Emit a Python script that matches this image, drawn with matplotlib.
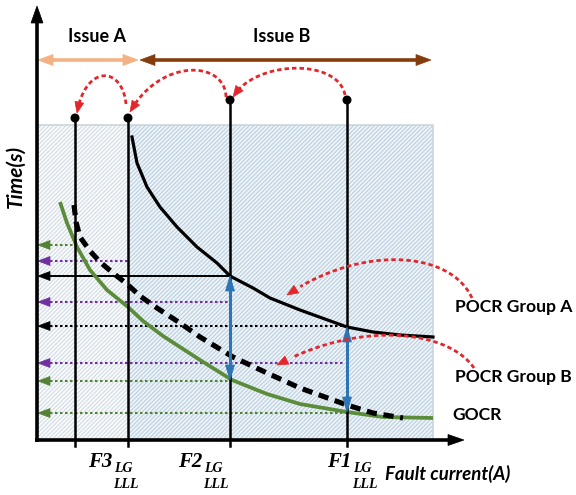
import matplotlib
matplotlib.use('Agg')
import matplotlib.pyplot as plt
import numpy as np
from matplotlib.patches import Rectangle, Polygon, Circle

# ---------------- data (schematic canvas units) ----------------
fault_x = [75, 128, 230, 347]          # fault-current markers
fault_top = [118, 118, 100, 100]       # top of each marker line

pocr_a_x = [132, 137, 147, 160, 177, 197, 217, 230, 253, 270, 300, 347, 373, 400, 433]
pocr_a_t = [137, 163, 187, 207, 227, 247, 263, 276, 288, 298, 310, 327, 332, 335, 337]

pocr_b_x = [74, 76, 80, 90, 100, 113, 127, 140, 157, 180, 200, 233, 267, 300, 347, 373, 403]
pocr_b_t = [205, 222, 237, 251, 262, 273, 284, 296, 308, 323, 337, 357, 373, 388, 405, 413, 418]

gocr_x = [60, 67, 77, 90, 107, 128, 143, 163, 200, 232, 267, 300, 347, 383, 433]
gocr_t = [202, 223, 247, 270, 290, 307, 321, 336, 360, 380, 394, 404, 412, 417, 418]

ref_t = [245, 261, 276, 302, 326, 363, 381, 413]
ref_from = [75, 128, 230, 230, 347, 343, 232, 347]
ref_color = ['#548235', '#7030A0', 'black', '#7030A0', 'black', '#7030A0', '#548235', '#548235']
ref_solid = [False, False, True, False, False, False, False, False]

blue_x = [230, 347]
blue_from = [276, 327]
blue_to = [380, 412]

# red curved arrows: start, control1, control2, tip
arc_p0 = [(126, 104), (226, 97), (345, 95), (472, 298), (474, 368)]
arc_c1 = [(122, 65), (225, 60), (338, 58), (450, 250), (448, 330)]
arc_c2 = [(85, 65), (160, 58), (255, 60), (360, 245), (360, 320)]
arc_p3 = [(77, 113), (130, 112), (233, 97), (287, 295), (277, 365)]

x_labels = ['F3', 'F2', 'F1']
x_label_pos = [88, 178, 327]
issue_labels = ['Issue A', 'Issue B']
issue_span = [(38, 138), (140, 431)]
issue_colors = ['#F4B183', '#843C0C']
curve_labels = ['POCR Group A', 'POCR Group B', 'GOCR']
curve_label_t = [307, 377, 415]
curve_label_x = [455, 455, 452]

# ---------------- figure ----------------
W, H = 576, 495
fig = plt.figure(figsize=(W / 100, H / 100), dpi=100)
ax = fig.add_axes([0, 0, 1, 1])
ax.set_xlim(0, W)
ax.set_ylim(H, 0)
ax.axis('off')

plt.rcParams['hatch.linewidth'] = 0.8

x0, y0, x1, y1 = 37, 125, 433, 440
# hatched regions
ax.add_patch(Rectangle((x0, y0), fault_x[1] - x0, y1 - y0, facecolor='#F9FBFC',
                       edgecolor='#D3DCE3', hatch='////////', lw=0, zorder=0))
ax.add_patch(Rectangle((fault_x[1], y0), x1 - fault_x[1], y1 - y0, facecolor='#EEF4F8',
                       edgecolor='#BCD0DF', hatch='////////', lw=0, zorder=0))
ax.plot([x0, x1, x1], [y0, y0, y1], color='#CDD5DC', lw=1.2, zorder=1)


def head(tip, d, color, L=11, Wd=9, z=6):
    d = np.asarray(d, float)
    d = d / np.hypot(*d)
    tip = np.asarray(tip, float)
    b = tip - d * L
    n = np.array([-d[1], d[0]])
    ax.add_patch(Polygon([tip, b + n * Wd / 2, b - n * Wd / 2], closed=True,
                         facecolor=color, edgecolor=color, lw=0.5, zorder=z))
    return b


# horizontal reference arrows to the time axis
for t, xf, c, s in zip(ref_t, ref_from, ref_color, ref_solid):
    b = head((38, t), (-1, 0), c, L=12, Wd=9, z=4)
    if s:
        ax.plot([b[0], xf], [t, t], color=c, lw=1.4, zorder=3)
    else:
        ax.plot([b[0], xf], [t, t], color=c, lw=1.5, ls=(0, (1.2, 1.2)), zorder=3)

# curves
ax.plot(gocr_x, gocr_t, color='#5B8C3A', lw=2.7, zorder=5, solid_capstyle='butt')
ax.plot(pocr_a_x, pocr_a_t, color='black', lw=2.3, zorder=5)
ax.plot(pocr_b_x, pocr_b_t, color='black', lw=3.7, ls=(0, (2.0, 1.3)), zorder=5)

# vertical fault lines
for fx, ft in zip(fault_x, fault_top):
    ax.plot([fx, fx], [446, ft], color='black', lw=1.8, zorder=6)
    ax.add_patch(Circle((fx, ft), 3.8, color='black', zorder=7))

# blue double arrows
for bx, bf, bt in zip(blue_x, blue_from, blue_to):
    b1 = head((bx, bf), (0, -1), '#2E75B6', L=15, Wd=9, z=8)
    b2 = head((bx, bt), (0, 1), '#2E75B6', L=15, Wd=9, z=8)
    ax.plot([bx, bx], [b1[1], b2[1]], color='#2E75B6', lw=2.2, zorder=8)

# red dashed curved arrows
tt = np.linspace(0, 0.94, 80)
for p0, c1, c2, p3 in zip(arc_p0, arc_c1, arc_c2, arc_p3):
    P = np.array([p0, c1, c2, p3], float)
    pts = ((1 - tt) ** 3)[:, None] * P[0] + (3 * (1 - tt) ** 2 * tt)[:, None] * P[1] \
        + (3 * (1 - tt) * tt ** 2)[:, None] * P[2] + (tt ** 3)[:, None] * P[3]
    ax.plot(pts[:, 0], pts[:, 1], color='#E3262B', lw=2.0, ls=(0, (1.6, 1.1)), zorder=9)
    head(p3, P[3] - pts[-1], '#E3262B', L=11, Wd=9, z=9)

# axes arrows
ax.plot([37, 37], [442, 22], color='black', lw=2.6, zorder=10, solid_capstyle='butt')
head((37, 6), (0, -1), 'black', L=17, Wd=12, z=10)
ax.plot([35, 450], [440, 440], color='black', lw=2.6, zorder=10, solid_capstyle='butt')
head((464, 440), (1, 0), 'black', L=16, Wd=11, z=10)

# issue arrows
for (a, b), c, lab in zip(issue_span, issue_colors, issue_labels):
    ba = head((a, 60), (-1, 0), c, L=15, Wd=11, z=6)
    bb = head((b, 60), (1, 0), c, L=15, Wd=11, z=6)
    ax.plot([ba[0], bb[0]], [60, 60], color=c, lw=2.6, zorder=6, solid_capstyle='butt')
ax.text(97, 37, issue_labels[0], ha='center', va='center', fontsize=13,
        fontweight='bold', family='Lato')
ax.text(282, 37, issue_labels[1], ha='center', va='center', fontsize=13,
        fontweight='bold', family='Lato')

# curve labels
for lab, lx, lt in zip(curve_labels, curve_label_x, curve_label_t):
    ax.text(lx, lt, lab, ha='left', va='center', fontsize=12.6, fontweight='bold',
            family='Lato')

# axis titles
ax.text(16, 177, 'Time(s)', rotation=90, ha='center', va='center', fontsize=15,
        fontweight='bold', fontstyle='italic', family='Lato')
ax.text(385, 474, 'Fault current(A)', ha='left', va='center', fontsize=13.4,
        fontweight='bold', fontstyle='italic', family='Lato')

# fault labels with stacked subscripts
for lab, lx in zip(x_labels, x_label_pos):
    ax.text(lx, 462, lab, ha='left', va='center', fontsize=15, fontweight='bold',
            fontstyle='italic', family='Liberation Serif')
    ax.text(lx + 26, 469, 'LG', ha='left', va='center', fontsize=10, fontweight='bold',
            fontstyle='italic', family='Liberation Serif')
    ax.text(lx + 25, 485, 'LLL', ha='left', va='center', fontsize=10, fontweight='bold',
            fontstyle='italic', family='Liberation Serif')

fig.savefig('out.png', dpi=100)
